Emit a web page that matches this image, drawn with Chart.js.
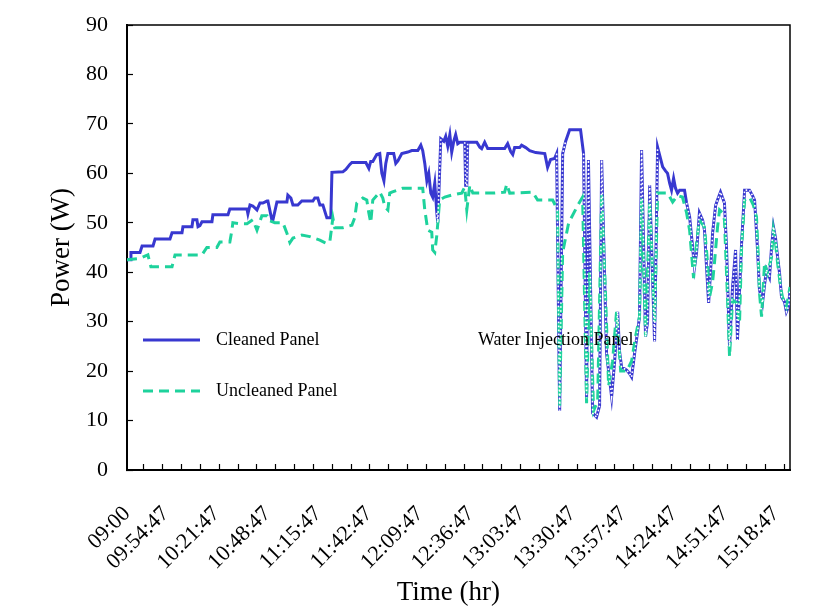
<!DOCTYPE html>
<html>
<head>
<meta charset="utf-8">
<script src="https://cdn.jsdelivr.net/npm/chart.js@4.4.1/dist/chart.umd.min.js"></script>
<style>
  html, body { margin: 0; padding: 0; background: #fff; }
</style>
</head>
<body>
<canvas id="chart" width="829" height="609"></canvas>
<script>
// x is a sample position along the (category) time axis, y is power in W
const timeLabels = ['09:00', '09:54:47', '10:21:47', '10:48:47', '11:15:47', '11:42:47', '12:09:47',
  '12:36:47', '13:03:47', '13:30:47', '13:57:47', '14:24:47', '14:51:47', '15:18:47'];
const labelAt = [0, 20.5, 47.5, 74.5, 101.5, 128.5, 155.5, 182.5, 209.5, 236.5, 263.5, 290.5, 317.5, 344.5];
const xMax = 352;
const yMax = 90;

const cleaned = [
  [0, 42.5], [1.6, 42.5], [2.1, 44], [6.9, 44], [8, 45.3], [13.8, 45.3], [14.9, 46.7], [22.8, 46.7],
  [23.9, 48], [29.2, 48], [29.7, 49.2], [34.5, 49.2], [35, 50.6], [37.1, 50.6], [37.7, 49.2], [38.7, 49.4],
  [39.8, 50.2], [45.1, 50.2], [45.6, 51.6], [53.6, 51.6], [54.6, 52.8], [63.7, 52.8], [64.2, 51.8],
  [65.3, 53.6], [66.8, 53.4], [69, 52.6], [70.6, 54], [72.1, 54], [74.3, 54.4], [74.8, 54.4], [76.9, 50.6],
  [77.5, 50.6], [79.6, 54.2], [84.9, 54.2], [85.4, 55.6], [87, 55], [88.1, 53.6], [90.7, 53.6], [92.8, 54.4],
  [98.7, 54.4], [99.7, 55], [101.3, 55], [102.4, 53.6], [104, 53.6], [106.1, 51], [108.2, 51], [108.8, 60.2],
  [114.6, 60.3], [116.2, 60.8], [118.3, 61.8], [119.4, 62.2], [126.8, 62.2], [128.4, 61], [129.4, 62.4],
  [130.5, 62.4], [132.6, 63.8], [134.2, 64], [135.3, 60], [136.4, 58.5], [137.4, 62], [138.5, 64],
  [141.6, 64], [142.7, 62], [143.8, 62.5], [145.9, 64], [149.1, 64.3], [151.2, 64.6], [154.4, 64.6],
  [156, 65.7], [157, 64.6], [158.1, 62], [159.2, 58.5], [160.2, 60], [161.3, 56], [162.3, 55.2], [163.4, 58],
  [164.5, 52], [165, 50], [166.6, 67], [168.2, 66.5], [169.2, 67.5], [170.3, 65.5], [171.4, 67.8],
  [172.4, 64.3], [173.5, 66.5], [174.5, 67.8], [175.6, 66], [176.7, 66.3], [179.3, 66.3], [179.8, 57.6],
  [180.4, 57.6], [180.9, 66.3], [185.7, 66.3], [187.3, 65.3], [188.3, 65], [189.9, 66.3], [191.5, 65],
  [200.5, 65], [202.1, 66], [203.7, 64.4], [204.8, 63.8], [205.8, 65.2], [208.5, 65.2], [209.5, 65.7],
  [211.7, 65.2], [213.8, 64.6], [215.4, 64.4], [217, 64.2], [221.8, 64], [223.3, 61.2], [224.9, 62.8],
  [227, 63], [228.1, 64], [229.7, 12], [231.3, 64], [232.9, 66.5], [235, 68.8], [240.8, 68.8], [242.4, 64],
  [244, 14.5], [245, 62.7], [247.2, 11.5], [249.3, 10.7], [250.9, 13], [252, 62.7], [254.6, 23.6],
  [257.3, 14.8], [258.9, 22], [260.5, 32], [261.5, 24], [262.6, 20.8], [265.3, 20.2], [266.8, 19.5],
  [267.9, 18.8], [269.5, 23.6], [271.1, 28], [272.1, 31], [273.2, 64.7], [275.3, 27], [276.4, 30],
  [277.5, 57.6], [280.1, 26], [281.7, 65.3], [284.4, 61.3], [285.9, 60.5], [287, 60], [288.1, 58],
  [289.1, 56.6], [290.2, 59], [291.2, 57], [292.3, 56], [293.4, 56.6], [296, 56.6], [297.1, 54],
  [298.7, 51.2], [300.3, 45], [301.3, 41], [302.4, 44], [303.9, 52], [305.6, 50.5], [306.6, 48.5],
  [307.7, 41], [308.8, 33.8], [309.8, 40], [310.9, 47.9], [312.5, 53.5], [313.5, 54.6], [315.1, 56.2],
  [317.2, 54], [318.3, 45], [319.9, 24.9], [321.5, 37], [323.1, 44.5], [324.1, 26.3], [326.3, 45.9],
  [327.9, 56.6], [330.5, 56.6], [332.1, 55.5], [333.2, 54.6], [334.7, 45], [335.8, 36.4], [337.4, 33.8],
  [338.5, 37.5], [339.5, 40.5], [341.1, 39], [342.2, 45], [343.2, 49.2], [344.3, 47], [345.4, 43.1],
  [346.4, 40], [347.5, 35], [349.1, 34], [350.1, 32], [351.2, 33], [352, 36.4]
];

const uncleaned = [
  [0, 42.5], [6.9, 42.8], [11.1, 43.5], [12.7, 41.1], [23.9, 41.1], [25.5, 43.5], [39.8, 43.5], [42.4, 45],
  [47.7, 45], [49.3, 46.1], [54.6, 46.1], [55.7, 48.5], [56.2, 50], [59.9, 49.8], [63.7, 49.8], [66.8, 50.6],
  [69, 48.5], [71.6, 51.4], [74.3, 51.4], [74.8, 50.6], [78.5, 50], [82.8, 50], [84.9, 47.9], [86.5, 46],
  [88.1, 46.9], [92.8, 47.5], [97.1, 47.2], [102.4, 46.5], [105, 46], [106.1, 45.8], [107.7, 46.2],
  [109.3, 51], [110.3, 49], [114.6, 49], [119.4, 49.5], [120.9, 51], [122, 54], [125.2, 55], [127.3, 54.6],
  [128.4, 52], [129.4, 50], [130.5, 54.6], [134.2, 56.2], [135.8, 55], [136.9, 53.2], [138.5, 52.6],
  [139.5, 56], [140.6, 56.2], [146.4, 57], [157, 57], [158.1, 52.6], [159.7, 48.5], [161.8, 48.1],
  [162.3, 44.5], [163.4, 44], [164.5, 47.5], [166, 54.6], [168.7, 55.2], [172.4, 55.6], [177.7, 56],
  [179.3, 57.2], [180.4, 52.6], [182, 57.6], [183.6, 56], [194.2, 56], [200.5, 56.2], [201.6, 57.8],
  [203.2, 56], [215.4, 56.2], [218, 54.6], [226, 54.6], [228.6, 52.6], [229.7, 13], [231.3, 44], [234.5, 50],
  [239.3, 53.5], [241.9, 55.2], [244, 13.5], [245.6, 40], [247.7, 12], [249.9, 14], [252, 56], [254.1, 35],
  [255.7, 17], [257.8, 22], [259.9, 32], [262.1, 20], [265.3, 20], [267.9, 22], [270, 27], [272.1, 31],
  [273.2, 55], [275.3, 27], [277.5, 54], [280.1, 30], [281.7, 56], [287, 56], [289.7, 54.2], [292.3, 55.5],
  [294.9, 55.2], [297.1, 52], [298.7, 48.5], [300.8, 38.8], [302.4, 46], [303.9, 50.6], [306.6, 49.1],
  [308.2, 42], [309.3, 35], [310.9, 38], [311.9, 41.9], [313.5, 49], [314.6, 52.6], [316.2, 52],
  [317.2, 50.6], [318.8, 35], [319.9, 22.9], [321.5, 34.4], [323.6, 33.8], [325.2, 29.7], [326.3, 45],
  [327.9, 54.6], [330.5, 55.2], [332.6, 53.5], [334.2, 51.2], [335.3, 42], [335.8, 35.8], [336.9, 31],
  [338.5, 41.9], [340.1, 39.8], [342.2, 43.1], [343.2, 48.5], [344.3, 46], [345.4, 41.9], [347, 37],
  [348, 35], [350.1, 33], [352, 37]
];

// white round-dot series, only where it shows; null breaks the line
const water = [
  [164.5, 52], [165, 50], [166.6, 67], [170, null],
  [179.3, 66.3], [179.8, 57.6], [180.4, 57.6], [180.9, 66.3], [185, null],
  [228.1, 64], [229.7, 12], [231.3, 64], [232.9, 66.5], [236, null],
  [242.4, 64], [244, 14.5], [245, 62.7], [247.2, 11.5], [249.3, 10.7], [250.9, 13], [252, 62.7],
  [254.6, 23.6], [257.3, 14.8], [258.9, 22], [260.5, 32], [261.5, 24], [262.6, 20.8], [265.3, 20.2],
  [266.8, 19.5], [267.9, 18.8], [269.5, 23.6], [271.1, 28], [272.1, 31], [273.2, 64.7], [275.3, 27],
  [276.4, 30], [277.5, 57.6], [280.1, 26], [281.7, 65.3], [290, null],
  [297.1, 54], [298.7, 51.2], [300.3, 45], [301.3, 41], [302.4, 44], [303.9, 52], [305.6, 50.5],
  [306.6, 48.5], [307.7, 41], [308.8, 33.8], [309.8, 40], [310.9, 47.9], [312.5, 53.5], [313.5, 54.6],
  [315.1, 56.2], [317.2, 54], [318.3, 45], [319.9, 24.9], [321.5, 37], [323.1, 44.5], [324.1, 26.3],
  [326.3, 45.9], [327.9, 56.6], [330.5, 56.6], [332.1, 55.5], [333.2, 54.6], [334.7, 45], [335.8, 36.4],
  [337.4, 33.8], [338.5, 37.5], [339.5, 40.5], [341.1, 39], [342.2, 45], [343.2, 49.2], [344.3, 47],
  [345.4, 43.1], [346.4, 40], [347.5, 35], [349.1, 34], [350.1, 32], [351.2, 33], [352, 36.4]
];

const SERIF = '"Liberation Serif", "Times New Roman", serif';
const toXY = (pairs) => pairs.map(([x, y]) => ({ x, y }));

// where the legend entries sit inside the plot (offset from chart area top-left)
const legendSpots = [
  { dx: 16, dy: 315 },
  { dx: 16, dy: 366 },
  { dx: 278, dy: 315 },
];

const framePlugin = {
  id: 'frame',
  beforeDatasetsDraw(chart) {
    const { ctx, chartArea: a } = chart;
    ctx.save();
    ctx.strokeStyle = '#000';
    ctx.lineWidth = 1.5;
    ctx.strokeRect(a.left, a.top, a.right - a.left, a.bottom - a.top);
    ctx.restore();
  },
};

const inlineLegend = {
  id: 'inlineLegend',
  afterDatasetsDraw(chart) {
    const { ctx, chartArea: a } = chart;
    ctx.save();
    ctx.font = `18px ${SERIF}`;
    ctx.textBaseline = 'middle';
    ctx.fillStyle = '#000';
    chart.data.datasets.forEach((ds, i) => {
      const spot = legendSpots[i];
      const x = a.left + spot.dx;
      const y = a.top + spot.dy;
      ctx.strokeStyle = ds.borderColor;
      ctx.lineWidth = ds.borderWidth;
      ctx.setLineDash(ds.borderDash || []);
      ctx.beginPath();
      ctx.moveTo(x, y);
      ctx.lineTo(x + 57, y);
      ctx.stroke();
      ctx.setLineDash([]);
      ctx.fillText(ds.label, x + 73, y);
    });
    ctx.restore();
  },
};

new Chart(document.getElementById('chart'), {
  type: 'line',
  data: {
    datasets: [
      {
        label: 'Cleaned Panel',
        data: toXY(cleaned),
        borderColor: '#3838d0',
        borderWidth: 3,
        pointRadius: 0,
        tension: 0,
        order: 2,
      },
      {
        label: 'Uncleaned Panel',
        data: toXY(uncleaned),
        borderColor: '#1ed29c',
        borderWidth: 3,
        borderDash: [10, 6],
        pointRadius: 0,
        tension: 0,
        order: 1,
      },
      {
        label: 'Water Injection Panel',
        data: toXY(water),
        borderColor: '#ffffff',
        borderWidth: 1.6,
        borderDash: [1.6, 2.4],
        pointRadius: 0,
        tension: 0,
        spanGaps: false,
        order: 0,
      },
    ],
  },
  options: {
    responsive: false,
    animation: false,
    devicePixelRatio: 1,
    layout: { padding: { left: 0, top: 25, right: 39, bottom: 0 } },
    plugins: {
      legend: { display: false },
      tooltip: { enabled: false },
    },
    scales: {
      x: {
        type: 'linear',
        min: 0,
        max: xMax,
        afterBuildTicks(scale) {
          const ticks = [];
          for (let v = 9; v <= xMax; v += 10) ticks.push({ value: v });
          labelAt.forEach((v, i) => ticks.push({ value: v, tl: timeLabels[i] }));
          scale.ticks = ticks;
        },
        afterFit(scale) {
          scale.height = 139;
          scale.paddingLeft = 0;
          scale.paddingRight = 0;
        },
        ticks: {
          autoSkip: false,
          minRotation: 45,
          maxRotation: 45,
          padding: 37,
          color: '#000',
          font: { family: SERIF, size: 22 },
          callback: (v, i, ticks) => ticks[i].tl || '',
        },
        grid: {
          drawOnChartArea: false,
          tickLength: -6,
          tickWidth: 1.2,
          tickColor: (ctx) => (ctx.tick && ctx.tick.tl ? 'rgba(0,0,0,0)' : '#000'),
        },
        border: { color: '#000', width: 2 },
        title: {
          display: true,
          text: 'Time (hr)   ',
          color: '#000',
          font: { family: SERIF, size: 27 },
          padding: { top: 0, bottom: 0 },
        },
      },
      y: {
        min: 0,
        max: yMax,
        afterFit(scale) {
          scale.width = 127;
          scale.paddingTop = 0;
          scale.paddingBottom = 0;
        },
        ticks: {
          stepSize: 10,
          padding: 25,
          color: '#000',
          font: { family: SERIF, size: 22 },
        },
        grid: {
          drawOnChartArea: false,
          tickLength: -6,
          tickWidth: 1.2,
          tickColor: '#000',
        },
        border: { color: '#000', width: 2 },
        title: {
          display: true,
          text: 'Power (W)',
          color: '#000',
          font: { family: SERIF, size: 27 },
          padding: { top: 46, bottom: 0 },
        },
      },
    },
  },
  plugins: [framePlugin, inlineLegend],
});
</script>
</body>
</html>
